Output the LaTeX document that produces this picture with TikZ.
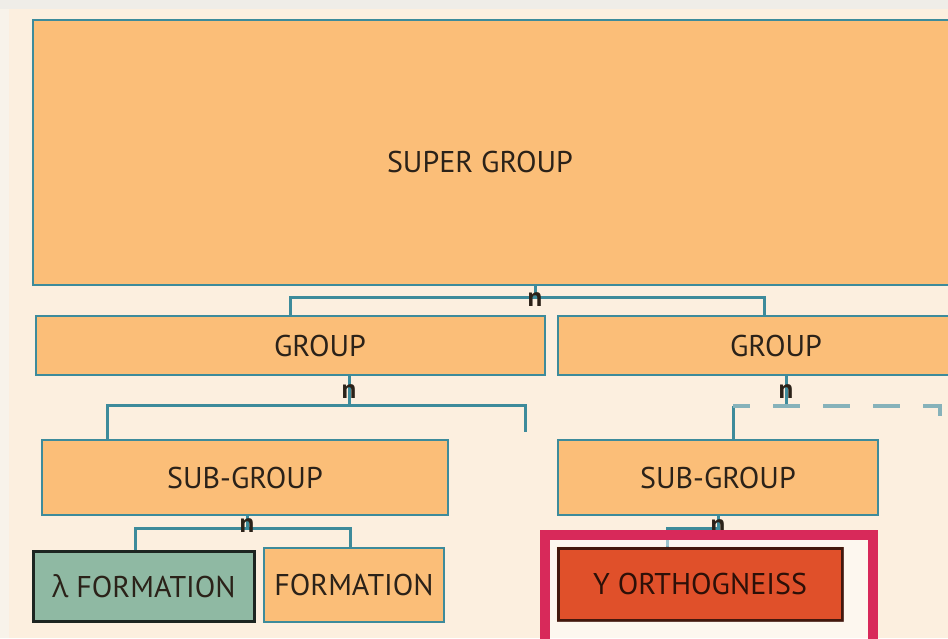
\documentclass[tikz,border=0pt]{standalone}
\usepackage{fontspec}
\setmainfont{PT Sans}
\newfontfamily\grkfont{Open Sans}
\definecolor{cream}{HTML}{FCEFDF}
\definecolor{topstrip}{HTML}{EFEDE8}
\definecolor{leftstrip}{HTML}{F8F3EA}
\definecolor{boxfill}{HTML}{FBBE78}
\definecolor{edge}{HTML}{3D8B9B}
\definecolor{edgelight}{HTML}{86B2BA}
\definecolor{sage}{HTML}{8FB9A3}
\definecolor{rust}{HTML}{E0502A}
\definecolor{crimson}{HTML}{D8295A}
\definecolor{ink}{HTML}{2B2219}
\tikzset{
  unit/.style={draw=edge, line width=2.5pt, fill=boxfill, inner sep=0pt, text=ink,
    font=\fontsize{30}{34}\selectfont},
  link/.style={draw=edge, line width=3pt},
  dashlink/.style={draw=edgelight, line width=3.5pt, dash pattern=on 27pt off 23pt, dash phase=10pt},
  nlabel/.style={text=ink, inner sep=0pt, font=\fontsize{27}{30}\selectfont\bfseries}
}
\begin{document}
\begin{tikzpicture}[x=1pt,y=-1pt]
  \useasboundingbox (0,0) rectangle (948,638);
  \clip (0,0) rectangle (948,638);
  \fill[cream] (0,0) rectangle (948,638);
  \fill[leftstrip] (0,0) rectangle (9,638);
  \fill[topstrip] (0,0) rectangle (948,9);

  % boxes
  \node[unit, minimum width=960pt, minimum height=265pt,
    label={[text=ink, font=\fontsize{30}{34}\selectfont, xshift=-33pt, yshift=-9pt]center:SUPER GROUP}]
    (super) at (513,152.5) {};
  \node[unit, minimum width=509pt, minimum height=59pt,
    label={[text=ink, font=\fontsize{30}{34}\selectfont, xshift=29.5pt]center:GROUP}]
    (grpA) at (290.5,345.5) {};
  \node[unit, minimum width=436pt, minimum height=59pt] (grpB) at (776,345.5) {GROUP};
  \node[unit, minimum width=406pt, minimum height=75pt] (subA) at (245,477.5) {SUB-GROUP};
  \node[unit, minimum width=320pt, minimum height=75pt] (subB) at (718,477.5) {SUB-GROUP};
  \node[unit, fill=sage, draw=black!80!sage, line width=3pt, minimum width=221pt, minimum height=70pt]
    (lamF) at (144,586) {{\grkfont λ} FORMATION};
  \node[unit, minimum width=180pt, minimum height=74pt] (form) at (354,585) {FORMATION};

  % links
  \coordinate (jTop) at (535,297);
  \draw[link] (super.south -| jTop) -- (jTop);
  \draw[link] (grpA.north) |- (jTop) -| ([xshift=-12pt]grpB.north);
  \node[nlabel] (nTop) at (535,300) {n};

  \coordinate (jA) at (349,405);
  \coordinate (endA) at (525,432);
  \draw[link] (grpA.south -| jA) -- (jA);
  \draw[link] ([xshift=-138pt]subA.north) |- (jA) -| (endA);
  \node[nlabel] (nA) at (349,392) {n};

  \coordinate (jB) at (786,406);
  \coordinate (cornB) at (733,406);
  \coordinate (endB) at (940,432);
  \draw[link] (grpB.south -| jB) -- (jB);
  \draw[link] ([xshift=15pt]subB.north) -- (cornB);
  \draw[dashlink] (cornB) -| (endB);
  \node[nlabel] (nB) at (786,392) {n};

  \coordinate (jC) at (247,528);
  \draw[link] (subA.south -| jC) -- (jC);
  \draw[link] ([xshift=-9pt]lamF.north) |- (jC) -| ([xshift=-4pt]form.north);
  \node[nlabel] (nC) at (247,526) {n};

  \node[unit, fill=rust, draw=black!70!rust, line width=3pt, text=black!80!rust,
    minimum width=284pt, minimum height=72pt] (orth) at (700,584) {Y ORTHOGNEISS};
  \coordinate (jD) at (718,528);
  \draw[link] (subB.south) -- (jD) -| ([xshift=-33pt]orth.north);
  \node[nlabel] (nD) at (718,527) {n};

  % highlight frame
  \fill[white, fill opacity=0.5, even odd rule] (545,535) rectangle (873,660)
    (orth.south west) rectangle (orth.north east);
  \draw[crimson, line width=10.5pt] (545,535) rectangle (873,660);
\end{tikzpicture}
\end{document}
